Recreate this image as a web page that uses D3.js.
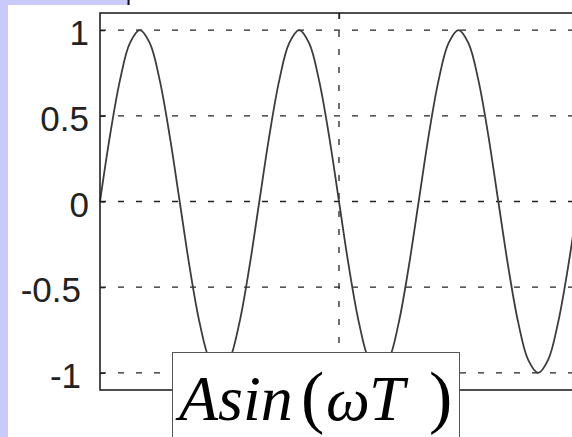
<!DOCTYPE html>
<html>
<head>
<meta charset="utf-8">
<script src="https://cdn.jsdelivr.net/npm/d3@7/dist/d3.min.js"></script>
<style>
  html, body { margin: 0; padding: 0; background: #fff; }
  svg { display: block; }
</style>
</head>
<body>
<svg id="chart" width="572" height="437"></svg>
<script>
// Time samples (s), 16 per period of a 3 Hz wave
const timeSamples = [
  0.0000, 0.0208, 0.0417, 0.0625, 0.0833, 0.1042, 0.1250, 0.1458,
  0.1667, 0.1875, 0.2083, 0.2292, 0.2500, 0.2708, 0.2917, 0.3125,
  0.3333, 0.3542, 0.3750, 0.3958, 0.4167, 0.4375, 0.4583, 0.4792,
  0.5000, 0.5208, 0.5417, 0.5625, 0.5833, 0.6042, 0.6250, 0.6458,
  0.6667, 0.6875, 0.7083, 0.7292, 0.7500, 0.7708, 0.7917, 0.8125,
  0.8333, 0.8542, 0.8750, 0.8958, 0.9167, 0.9375, 0.9583, 0.9792,
  1.0000
];
// Signal amplitude at each sample
const signalValues = [
  0, 0.383, 0.707, 0.924, 1, 0.924, 0.707, 0.383,
  0, -0.383, -0.707, -0.924, -1, -0.924, -0.707, -0.383,
  0, 0.383, 0.707, 0.924, 1, 0.924, 0.707, 0.383,
  0, -0.383, -0.707, -0.924, -1, -0.924, -0.707, -0.383,
  0, 0.383, 0.707, 0.924, 1, 0.924, 0.707, 0.383,
  0, -0.383, -0.707, -0.924, -1, -0.924, -0.707, -0.383,
  0
];
const yTicks = [-1, -0.5, 0, 0.5, 1];
const yTickLabels = ["-1", "-0.5", "0", "0.5", "1"];
const xTicks = [0.5, 1];

const svg = d3.select("#chart");
const W = 572, H = 437;

// Slide backdrop
svg.append("rect").attr("x", 0).attr("y", 0).attr("width", W).attr("height", H).attr("fill", "#c9c9fa");
svg.append("rect").attr("x", 8).attr("y", 5).attr("width", W - 8).attr("height", H - 5).attr("fill", "#fff");
svg.append("rect").attr("x", 130).attr("y", 0).attr("width", W - 130).attr("height", 5).attr("fill", "#fff");
svg.append("line").attr("x1", 128.5).attr("x2", 128.5).attr("y1", 0).attr("y2", 5)
  .attr("stroke", "#111").attr("stroke-width", 2);

// Plot area
const plotL = 100, plotT = 13, plotR = 578, plotB = 390;
const x = d3.scaleLinear().domain([0, 1]).range([plotL, plotR]);
const y = d3.scaleLinear().domain([-1.1, 1.1]).range([plotB, plotT]);

// Dotted grid
const grid = svg.append("g").attr("stroke", "#222").attr("stroke-width", 1.3)
  .attr("stroke-dasharray", "6,12");
grid.selectAll("line.h").data(yTicks).join("line").attr("class", "h")
  .attr("x1", plotL).attr("x2", plotR).attr("y1", d => y(d)).attr("y2", d => y(d));
grid.selectAll("line.v").data(xTicks).join("line").attr("class", "v")
  .attr("x1", d => x(d)).attr("x2", d => x(d)).attr("y1", plotT).attr("y2", plotB);

// Waveform
const line = d3.line().x((d, i) => x(timeSamples[i])).y(d => y(d)).curve(d3.curveCatmullRom.alpha(0.5));
svg.append("path").datum(signalValues).attr("d", line)
  .attr("fill", "none").attr("stroke", "#3c3c3c").attr("stroke-width", 1.8);

// Axes with inward ticks
const yAxis = svg.append("g").attr("transform", `translate(${plotL},0)`)
  .call(d3.axisLeft(y).tickValues(yTicks).tickSize(-5).tickPadding(11)
    .tickFormat((d, i) => yTickLabels[i]));
yAxis.select(".domain").remove();
yAxis.selectAll("line").attr("stroke", "#222").attr("stroke-width", 1.3);
yAxis.selectAll("text")
  .attr("font-family", "'Liberation Sans', Arial, sans-serif")
  .attr("font-size", 35).attr("fill", "#222")
  .attr("dy", "0.42em")
  .attr("dx", d => d < 0 ? -8 : 0);

const xTop = svg.append("g").attr("transform", `translate(0,${plotT})`)
  .call(d3.axisTop(x).tickValues(xTicks).tickSize(-6).tickFormat(""));
xTop.select(".domain").remove();
xTop.selectAll("line").attr("stroke", "#222").attr("stroke-width", 1.3);

const xBottom = svg.append("g").attr("transform", `translate(0,${plotB})`)
  .call(d3.axisBottom(x).tickValues(xTicks).tickSize(-6).tickFormat(""));
xBottom.select(".domain").remove();
xBottom.selectAll("line").attr("stroke", "#222").attr("stroke-width", 1.3);

// Frame
svg.append("rect").attr("x", plotL).attr("y", plotT).attr("width", plotR - plotL).attr("height", plotB - plotT)
  .attr("fill", "none").attr("stroke", "#222").attr("stroke-width", 1.6);

// Formula caption
const box = svg.append("g");
box.append("rect").attr("x", 172.5).attr("y", 352.5).attr("width", 287).attr("height", 100)
  .attr("fill", "#fff").attr("stroke", "#555").attr("stroke-width", 1);
const cap = box.append("text").attr("y", 420)
  .attr("font-family", "'Liberation Serif', 'Times New Roman', serif").attr("fill", "#000");
cap.append("tspan").attr("x", 179).attr("font-style", "italic").attr("font-size", 64).text("Asin");
cap.append("tspan").attr("x", 301).attr("font-size", 70).text("(");
cap.append("tspan").attr("x", 326).attr("font-style", "italic").attr("font-size", 62).text("ω");
cap.append("tspan").attr("x", 369).attr("font-style", "italic").attr("font-size", 64).text("T");
cap.append("tspan").attr("x", 429).attr("font-size", 70).text(")");
</script>
</body>
</html>
